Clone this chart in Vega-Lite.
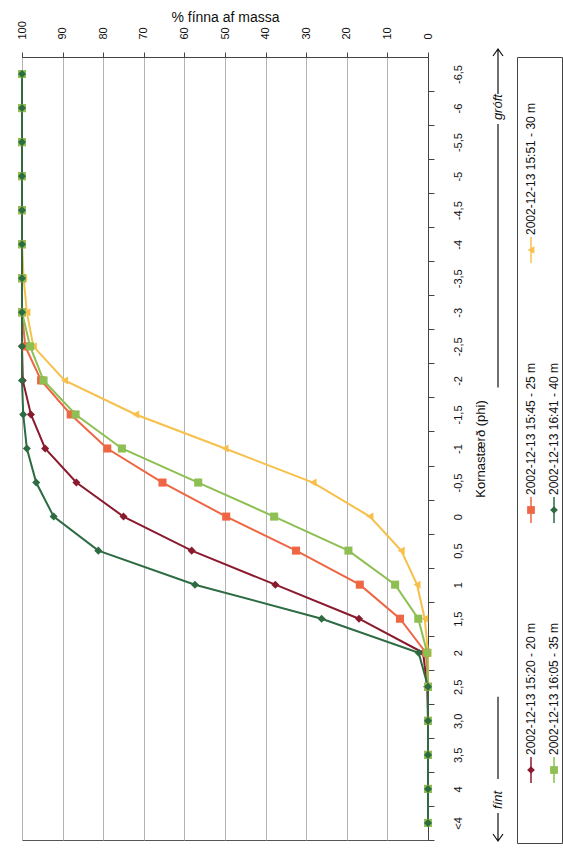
{
  "$schema": "https://vega.github.io/schema/vega-lite/v6.json",
  "autosize": {"type": "pad"},
  "padding": {"left": 15, "top": 10, "right": 0, "bottom": 0},
  "background": "white",
  "config": {
    "font": "Liberation Sans",
    "view": {"stroke": "#555", "strokeWidth": 1},
    "axis": {"labelFont": "Liberation Sans", "titleFont": "Liberation Sans", "labelColor": "#111", "titleColor": "#111", "domainColor": "#444", "tickColor": "#444", "titleFontWeight": "normal"}
  },
  "datasets": {
    "grain": [
      {"series": "2002-12-13 15:20 - 20 m", "phi": "-6,5", "pct": 100},
      {"series": "2002-12-13 15:20 - 20 m", "phi": "-6", "pct": 100},
      {"series": "2002-12-13 15:20 - 20 m", "phi": "-5,5", "pct": 100},
      {"series": "2002-12-13 15:20 - 20 m", "phi": "-5", "pct": 100},
      {"series": "2002-12-13 15:20 - 20 m", "phi": "-4,5", "pct": 100},
      {"series": "2002-12-13 15:20 - 20 m", "phi": "-4", "pct": 100},
      {"series": "2002-12-13 15:20 - 20 m", "phi": "-3,5", "pct": 100},
      {"series": "2002-12-13 15:20 - 20 m", "phi": "-3", "pct": 100},
      {"series": "2002-12-13 15:20 - 20 m", "phi": "-2,5", "pct": 100},
      {"series": "2002-12-13 15:20 - 20 m", "phi": "-2", "pct": 99.8},
      {"series": "2002-12-13 15:20 - 20 m", "phi": "-1,5", "pct": 97.8},
      {"series": "2002-12-13 15:20 - 20 m", "phi": "-1", "pct": 94.3},
      {"series": "2002-12-13 15:20 - 20 m", "phi": "-0,5", "pct": 86.6},
      {"series": "2002-12-13 15:20 - 20 m", "phi": "0", "pct": 75},
      {"series": "2002-12-13 15:20 - 20 m", "phi": "0,5", "pct": 58.2},
      {"series": "2002-12-13 15:20 - 20 m", "phi": "1", "pct": 37.6},
      {"series": "2002-12-13 15:20 - 20 m", "phi": "1,5", "pct": 17},
      {"series": "2002-12-13 15:20 - 20 m", "phi": "2", "pct": 1.2},
      {"series": "2002-12-13 15:20 - 20 m", "phi": "2,5", "pct": 0.2},
      {"series": "2002-12-13 15:20 - 20 m", "phi": "3,0", "pct": 0},
      {"series": "2002-12-13 15:20 - 20 m", "phi": "3,5", "pct": 0},
      {"series": "2002-12-13 15:20 - 20 m", "phi": "4", "pct": 0},
      {"series": "2002-12-13 15:20 - 20 m", "phi": "<4", "pct": 0},
      {"series": "2002-12-13 15:45 - 25 m", "phi": "-6,5", "pct": 100},
      {"series": "2002-12-13 15:45 - 25 m", "phi": "-6", "pct": 100},
      {"series": "2002-12-13 15:45 - 25 m", "phi": "-5,5", "pct": 100},
      {"series": "2002-12-13 15:45 - 25 m", "phi": "-5", "pct": 100},
      {"series": "2002-12-13 15:45 - 25 m", "phi": "-4,5", "pct": 100},
      {"series": "2002-12-13 15:45 - 25 m", "phi": "-4", "pct": 100},
      {"series": "2002-12-13 15:45 - 25 m", "phi": "-3,5", "pct": 100},
      {"series": "2002-12-13 15:45 - 25 m", "phi": "-3", "pct": 100},
      {"series": "2002-12-13 15:45 - 25 m", "phi": "-2,5", "pct": 99.2},
      {"series": "2002-12-13 15:45 - 25 m", "phi": "-2", "pct": 95.3},
      {"series": "2002-12-13 15:45 - 25 m", "phi": "-1,5", "pct": 88},
      {"series": "2002-12-13 15:45 - 25 m", "phi": "-1", "pct": 79},
      {"series": "2002-12-13 15:45 - 25 m", "phi": "-0,5", "pct": 65.4},
      {"series": "2002-12-13 15:45 - 25 m", "phi": "0", "pct": 49.7},
      {"series": "2002-12-13 15:45 - 25 m", "phi": "0,5", "pct": 32.5},
      {"series": "2002-12-13 15:45 - 25 m", "phi": "1", "pct": 16.8},
      {"series": "2002-12-13 15:45 - 25 m", "phi": "1,5", "pct": 6.9},
      {"series": "2002-12-13 15:45 - 25 m", "phi": "2", "pct": 0.5},
      {"series": "2002-12-13 15:45 - 25 m", "phi": "2,5", "pct": 0},
      {"series": "2002-12-13 15:45 - 25 m", "phi": "3,0", "pct": 0},
      {"series": "2002-12-13 15:45 - 25 m", "phi": "3,5", "pct": 0},
      {"series": "2002-12-13 15:45 - 25 m", "phi": "4", "pct": 0},
      {"series": "2002-12-13 15:45 - 25 m", "phi": "<4", "pct": 0},
      {"series": "2002-12-13 15:51 - 30 m", "phi": "-6,5", "pct": 100},
      {"series": "2002-12-13 15:51 - 30 m", "phi": "-6", "pct": 100},
      {"series": "2002-12-13 15:51 - 30 m", "phi": "-5,5", "pct": 100},
      {"series": "2002-12-13 15:51 - 30 m", "phi": "-5", "pct": 100},
      {"series": "2002-12-13 15:51 - 30 m", "phi": "-4,5", "pct": 100},
      {"series": "2002-12-13 15:51 - 30 m", "phi": "-4", "pct": 100},
      {"series": "2002-12-13 15:51 - 30 m", "phi": "-3,5", "pct": 99.6},
      {"series": "2002-12-13 15:51 - 30 m", "phi": "-3", "pct": 98.8},
      {"series": "2002-12-13 15:51 - 30 m", "phi": "-2,5", "pct": 97.2},
      {"series": "2002-12-13 15:51 - 30 m", "phi": "-2", "pct": 89.5},
      {"series": "2002-12-13 15:51 - 30 m", "phi": "-1,5", "pct": 72},
      {"series": "2002-12-13 15:51 - 30 m", "phi": "-1", "pct": 50},
      {"series": "2002-12-13 15:51 - 30 m", "phi": "-0,5", "pct": 28.3},
      {"series": "2002-12-13 15:51 - 30 m", "phi": "0", "pct": 14.3},
      {"series": "2002-12-13 15:51 - 30 m", "phi": "0,5", "pct": 6.6},
      {"series": "2002-12-13 15:51 - 30 m", "phi": "1", "pct": 2.7},
      {"series": "2002-12-13 15:51 - 30 m", "phi": "1,5", "pct": 0.8},
      {"series": "2002-12-13 15:51 - 30 m", "phi": "2", "pct": 0},
      {"series": "2002-12-13 15:51 - 30 m", "phi": "2,5", "pct": 0},
      {"series": "2002-12-13 15:51 - 30 m", "phi": "3,0", "pct": 0},
      {"series": "2002-12-13 15:51 - 30 m", "phi": "3,5", "pct": 0},
      {"series": "2002-12-13 15:51 - 30 m", "phi": "4", "pct": 0},
      {"series": "2002-12-13 15:51 - 30 m", "phi": "<4", "pct": 0},
      {"series": "2002-12-13 16:05 - 35 m", "phi": "-6,5", "pct": 100},
      {"series": "2002-12-13 16:05 - 35 m", "phi": "-6", "pct": 100},
      {"series": "2002-12-13 16:05 - 35 m", "phi": "-5,5", "pct": 100},
      {"series": "2002-12-13 16:05 - 35 m", "phi": "-5", "pct": 100},
      {"series": "2002-12-13 16:05 - 35 m", "phi": "-4,5", "pct": 100},
      {"series": "2002-12-13 16:05 - 35 m", "phi": "-4", "pct": 100},
      {"series": "2002-12-13 16:05 - 35 m", "phi": "-3,5", "pct": 100},
      {"series": "2002-12-13 16:05 - 35 m", "phi": "-3", "pct": 100},
      {"series": "2002-12-13 16:05 - 35 m", "phi": "-2,5", "pct": 98},
      {"series": "2002-12-13 16:05 - 35 m", "phi": "-2", "pct": 94.7},
      {"series": "2002-12-13 16:05 - 35 m", "phi": "-1,5", "pct": 86.8},
      {"series": "2002-12-13 16:05 - 35 m", "phi": "-1", "pct": 75.4},
      {"series": "2002-12-13 16:05 - 35 m", "phi": "-0,5", "pct": 56.6},
      {"series": "2002-12-13 16:05 - 35 m", "phi": "0", "pct": 37.9},
      {"series": "2002-12-13 16:05 - 35 m", "phi": "0,5", "pct": 19.6},
      {"series": "2002-12-13 16:05 - 35 m", "phi": "1", "pct": 8.1},
      {"series": "2002-12-13 16:05 - 35 m", "phi": "1,5", "pct": 2.4},
      {"series": "2002-12-13 16:05 - 35 m", "phi": "2", "pct": 0.2},
      {"series": "2002-12-13 16:05 - 35 m", "phi": "2,5", "pct": 0},
      {"series": "2002-12-13 16:05 - 35 m", "phi": "3,0", "pct": 0},
      {"series": "2002-12-13 16:05 - 35 m", "phi": "3,5", "pct": 0},
      {"series": "2002-12-13 16:05 - 35 m", "phi": "4", "pct": 0},
      {"series": "2002-12-13 16:05 - 35 m", "phi": "<4", "pct": 0},
      {"series": "2002-12-13 16:41 - 40 m", "phi": "-6,5", "pct": 100},
      {"series": "2002-12-13 16:41 - 40 m", "phi": "-6", "pct": 100},
      {"series": "2002-12-13 16:41 - 40 m", "phi": "-5,5", "pct": 100},
      {"series": "2002-12-13 16:41 - 40 m", "phi": "-5", "pct": 100},
      {"series": "2002-12-13 16:41 - 40 m", "phi": "-4,5", "pct": 100},
      {"series": "2002-12-13 16:41 - 40 m", "phi": "-4", "pct": 100},
      {"series": "2002-12-13 16:41 - 40 m", "phi": "-3,5", "pct": 100},
      {"series": "2002-12-13 16:41 - 40 m", "phi": "-3", "pct": 100},
      {"series": "2002-12-13 16:41 - 40 m", "phi": "-2,5", "pct": 100},
      {"series": "2002-12-13 16:41 - 40 m", "phi": "-2", "pct": 100},
      {"series": "2002-12-13 16:41 - 40 m", "phi": "-1,5", "pct": 99.7},
      {"series": "2002-12-13 16:41 - 40 m", "phi": "-1", "pct": 98.8},
      {"series": "2002-12-13 16:41 - 40 m", "phi": "-0,5", "pct": 96.5},
      {"series": "2002-12-13 16:41 - 40 m", "phi": "0", "pct": 92.2},
      {"series": "2002-12-13 16:41 - 40 m", "phi": "0,5", "pct": 81.2},
      {"series": "2002-12-13 16:41 - 40 m", "phi": "1", "pct": 57.4},
      {"series": "2002-12-13 16:41 - 40 m", "phi": "1,5", "pct": 26.2},
      {"series": "2002-12-13 16:41 - 40 m", "phi": "2", "pct": 2.3},
      {"series": "2002-12-13 16:41 - 40 m", "phi": "2,5", "pct": 0},
      {"series": "2002-12-13 16:41 - 40 m", "phi": "3,0", "pct": 0},
      {"series": "2002-12-13 16:41 - 40 m", "phi": "3,5", "pct": 0},
      {"series": "2002-12-13 16:41 - 40 m", "phi": "4", "pct": 0},
      {"series": "2002-12-13 16:41 - 40 m", "phi": "<4", "pct": 0}
    ],
    "legend": [
      {"series": "2002-12-13 15:20 - 20 m"},
      {"series": "2002-12-13 15:45 - 25 m"},
      {"series": "2002-12-13 15:51 - 30 m"},
      {"series": "2002-12-13 16:05 - 35 m"},
      {"series": "2002-12-13 16:41 - 40 m"}
    ],
    "notes": [
      {"label": "gróft"},
      {"label": "fínt"}
    ]
  },
  "bounds": "flush",
  "spacing": 63,
  "hconcat": [
    {
      "width": 406,
      "height": 783,
      "data": {"name": "grain"},
      "encoding": {
        "x": {
          "field": "pct", "type": "quantitative",
          "scale": {"domain": [0, 100], "reverse": true, "nice": false},
          "axis": {
            "orient": "top", "values": [0, 10, 20, 30, 40, 50, 60, 70, 80, 90, 100],
            "grid": true, "gridColor": "#b3b3b3", "gridWidth": 1,
            "tickSize": 5, "labelAngle": 270, "labelAlign": "left", "labelBaseline": "middle",
            "labelPadding": 13, "labelFontSize": 11,
            "title": "% fínna af massa", "titleFontSize": 14, "titlePadding": -4
          }
        },
        "y": {
          "field": "phi", "type": "ordinal",
          "sort": ["-6,5", "-6", "-5,5", "-5", "-4,5", "-4", "-3,5", "-3", "-2,5", "-2", "-1,5", "-1", "-0,5", "0", "0,5", "1", "1,5", "2", "2,5", "3,0", "3,5", "4", "<4"],
          "scale": {"type": "point", "padding": 0.5},
          "axis": {
            "orient": "right", "grid": false, "tickSize": 6, "tickOffset": 17, "labelOffset": -17,
            "labelAngle": 270, "labelAlign": "center", "labelBaseline": "top", "labelPadding": 18, "labelFontSize": 11,
            "title": "Kornastærð (phi)", "titleAngle": 270, "titleBaseline": "top", "titleFontSize": 13, "titlePadding": 11
          }
        },
        "color": {
          "field": "series", "type": "nominal",
          "scale": {
            "domain": ["2002-12-13 15:20 - 20 m", "2002-12-13 15:45 - 25 m", "2002-12-13 15:51 - 30 m", "2002-12-13 16:05 - 35 m", "2002-12-13 16:41 - 40 m"],
            "range": ["#8A1B2E", "#EE6644", "#F6C04A", "#8DBF52", "#2D6B42"]
          },
          "legend": null
        }
      },
      "layer": [
        {"mark": {"type": "line", "strokeWidth": 2}, "encoding": {"order": {"value": null}}},
        {
          "mark": {"type": "point", "filled": true, "size": 65, "opacity": 1},
          "encoding": {
            "shape": {
              "field": "series", "type": "nominal",
              "scale": {
                "domain": ["2002-12-13 15:20 - 20 m", "2002-12-13 15:45 - 25 m", "2002-12-13 15:51 - 30 m", "2002-12-13 16:05 - 35 m", "2002-12-13 16:41 - 40 m"],
                "range": ["diamond", "square", "triangle-left", "square", "diamond"]
              },
              "legend": null
            }
          }
        }
      ]
    },
    {
      "bounds": "flush",
      "spacing": 12,
      "hconcat": [
        {
          "width": 14,
          "height": 783,
          "view": {"stroke": null},
          "data": {"name": "notes"},
          "encoding": {
            "x": {"datum": 0, "type": "quantitative", "scale": {"domain": [-1, 1]}, "axis": null}
          },
          "layer": [
            {
              "transform": [{"filter": "datum.label == 'gróft'"}],
              "mark": {"type": "rule", "color": "#111", "strokeWidth": 1.2, "yOffset": 7, "y2Offset": -18},
              "encoding": {
                "y": {"datum": "-2", "type": "ordinal", "scale": {"type": "point", "padding": 0.5, "domain": ["-6,5", "-6", "-5,5", "-5", "-4,5", "-4", "-3,5", "-3", "-2,5", "-2", "-1,5", "-1", "-0,5", "0", "0,5", "1", "1,5", "2", "2,5", "3,0", "3,5", "4", "<4"]}, "axis": null},
                "y2": {"datum": "-5,5"}
              }
            },
            {
              "transform": [{"filter": "datum.label == 'gróft'"}],
              "mark": {"type": "text", "angle": 270, "align": "left", "baseline": "middle", "dx": 22, "fontSize": 13, "fontStyle": "italic", "color": "#111"},
              "encoding": {"y": {"datum": "-5,5", "type": "ordinal"}, "text": {"field": "label"}}
            },
            {
              "transform": [{"filter": "datum.label == 'gróft'"}],
              "mark": {"type": "point", "shape": "M0,2L0,-2.5M-0.5,-1.8L0,-2.5L0.5,-1.8", "size": 400, "filled": false, "color": "#111", "strokeWidth": 1.2, "opacity": 1},
              "encoding": {"y": {"datum": "-6,5", "type": "ordinal"}}
            },
            {
              "transform": [{"filter": "datum.label == 'fínt'"}],
              "mark": {"type": "rule", "color": "#111", "strokeWidth": 1.2, "yOffset": 10, "y2Offset": -10},
              "encoding": {"y": {"datum": "2,5", "type": "ordinal"}, "y2": {"datum": "4"}}
            },
            {
              "transform": [{"filter": "datum.label == 'fínt'"}],
              "mark": {"type": "text", "angle": 270, "align": "left", "baseline": "middle", "dx": -20, "fontSize": 13, "fontStyle": "italic", "color": "#111"},
              "encoding": {"y": {"datum": "4", "type": "ordinal"}, "text": {"field": "label"}}
            },
            {
              "transform": [{"filter": "datum.label == 'fínt'"}],
              "mark": {"type": "point", "shape": "M0,-1L0,1.8M-0.5,1.1L0,1.8L0.5,1.1", "size": 400, "filled": false, "color": "#111", "strokeWidth": 1.2, "opacity": 1},
              "encoding": {"y": {"datum": "<4", "type": "ordinal"}}
            }
          ]
        },
        {
          "width": 45,
          "height": 786,
          "view": {"stroke": "#444"},
          "data": {"name": "legend"},
          "encoding": {
            "x": {"datum": 1, "type": "quantitative", "scale": {"domain": [1, 2], "range": [14, 37]}, "axis": null},
            "color": {
              "field": "series", "type": "nominal",
              "scale": {
                "domain": ["2002-12-13 15:20 - 20 m", "2002-12-13 15:45 - 25 m", "2002-12-13 15:51 - 30 m", "2002-12-13 16:05 - 35 m", "2002-12-13 16:41 - 40 m"],
                "range": ["#8A1B2E", "#EE6644", "#F6C04A", "#8DBF52", "#2D6B42"]
              },
              "legend": null
            }
          },
          "layer": [
            {
              "transform": [{"filter": {"field": "series", "oneOf": ["2002-12-13 15:20 - 20 m", "2002-12-13 15:45 - 25 m", "2002-12-13 15:51 - 30 m"]}}],
              "encoding": {
                "x": {"datum": 1, "type": "quantitative"},
                "y": {"field": "series", "type": "nominal", "scale": {"type": "point", "padding": 0, "domain": ["2002-12-13 15:51 - 30 m", "2002-12-13 15:45 - 25 m", "2002-12-13 15:20 - 20 m"], "range": [193, 713]}, "axis": null}
              },
              "layer": [
                {"mark": {"type": "point", "size": 676, "filled": false, "strokeWidth": 1.5, "opacity": 1}, "encoding": {"shape": {"value": "M0,-1L0,1"}}},
                {
                  "mark": {"type": "point", "filled": true, "size": 60, "opacity": 1},
                  "encoding": {
                    "shape": {
                      "field": "series", "type": "nominal",
                      "scale": {
                        "domain": ["2002-12-13 15:20 - 20 m", "2002-12-13 15:45 - 25 m", "2002-12-13 15:51 - 30 m", "2002-12-13 16:05 - 35 m", "2002-12-13 16:41 - 40 m"],
                        "range": ["diamond", "square", "triangle-left", "square", "diamond"]
                      },
                      "legend": null
                    }
                  }
                },
                {"mark": {"type": "text", "angle": 270, "align": "left", "baseline": "middle", "dx": 15, "fontSize": 12, "color": "#111"}, "encoding": {"text": {"field": "series"}, "color": {"value": "#111"}}}
              ]
            },
            {
              "transform": [{"filter": {"field": "series", "oneOf": ["2002-12-13 16:05 - 35 m", "2002-12-13 16:41 - 40 m"]}}],
              "encoding": {
                "x": {"datum": 2, "type": "quantitative"},
                "y": {"field": "series", "type": "nominal", "scale": {"type": "point", "padding": 0, "domain": ["2002-12-13 15:51 - 30 m", "2002-12-13 16:41 - 40 m", "2002-12-13 16:05 - 35 m"], "range": [193, 713]}, "axis": null}
              },
              "layer": [
                {"mark": {"type": "point", "size": 676, "filled": false, "strokeWidth": 1.5, "opacity": 1}, "encoding": {"shape": {"value": "M0,-1L0,1"}}},
                {
                  "mark": {"type": "point", "filled": true, "size": 60, "opacity": 1},
                  "encoding": {
                    "shape": {
                      "field": "series", "type": "nominal",
                      "scale": {
                        "domain": ["2002-12-13 15:20 - 20 m", "2002-12-13 15:45 - 25 m", "2002-12-13 15:51 - 30 m", "2002-12-13 16:05 - 35 m", "2002-12-13 16:41 - 40 m"],
                        "range": ["diamond", "square", "triangle-left", "square", "diamond"]
                      },
                      "legend": null
                    }
                  }
                },
                {"mark": {"type": "text", "angle": 270, "align": "left", "baseline": "middle", "dx": 15, "fontSize": 12, "color": "#111"}, "encoding": {"text": {"field": "series"}, "color": {"value": "#111"}}}
              ]
            }
          ],
          "resolve": {"scale": {"y": "independent"}}
        }
      ]
    }
  ]
}
